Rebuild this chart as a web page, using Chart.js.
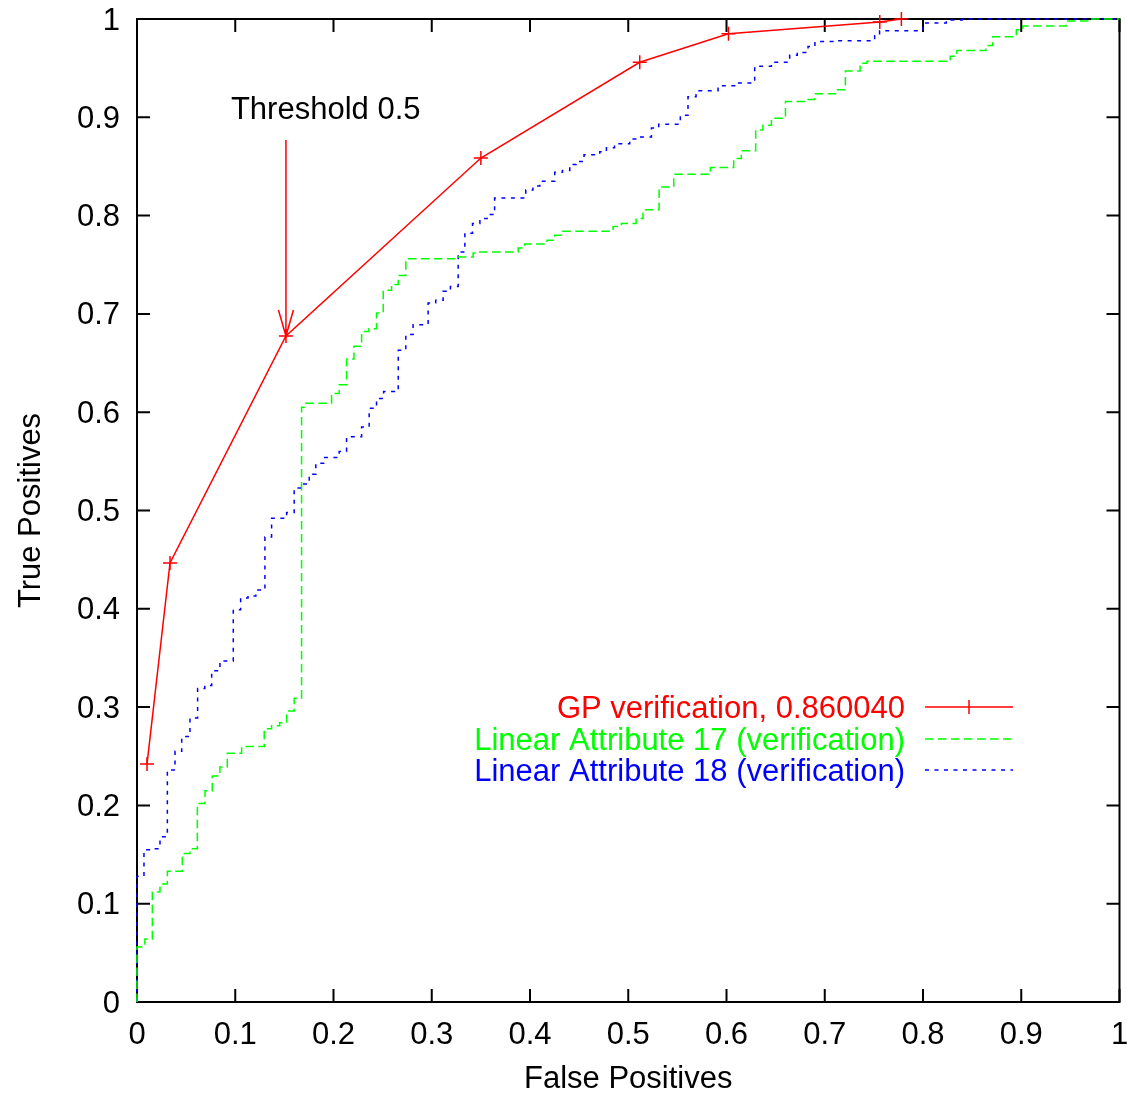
<!DOCTYPE html>
<html>
<head>
<meta charset="utf-8">
<title>ROC - GP verification</title>
<script src="https://cdn.jsdelivr.net/npm/chart.js@4.4.1/dist/chart.umd.min.js"></script>
<style>
  html, body { margin: 0; padding: 0; background: #fff; }
  canvas { display: block; }
</style>
</head>
<body>
<canvas id="roc" width="1128" height="1097"></canvas>
<script>
// GP verification ROC points (false positive rate, true positive rate)
const gpFP = [0.0102, 0.0336, 0.1516, 0.350, 0.5117, 0.602, 0.756, 0.778];
const gpTP = [0.242, 0.4466, 0.6775, 0.8586, 0.956, 0.985, 0.997, 1.0];

// Linear attribute curves, one entry per step: x where the curve rises, y it rises to
const attr17FP = [0, 0, 0.008, 0.0156, 0.0234, 0.0309, 0.0461, 0.0539, 0.0614, 0.0692, 0.0766, 0.0844,
  0.0919, 0.1065, 0.1295, 0.137, 0.1452, 0.1523, 0.160, 0.1675, 0.172, 0.198, 0.2058, 0.2133, 0.2208,
  0.2286, 0.236, 0.2438, 0.2506, 0.2591, 0.2659, 0.2736, 0.3269, 0.3421, 0.3456, 0.388, 0.3947, 0.4174,
  0.4252, 0.433, 0.4846, 0.493, 0.508, 0.515, 0.5314, 0.5463, 0.5836, 0.6073, 0.6151, 0.6297, 0.637,
  0.6457, 0.66, 0.683, 0.6897, 0.713, 0.721, 0.736, 0.743, 0.8277, 0.8345, 0.864, 0.871, 0.895, 0.9016,
  0.9457, 0.97, 1];
const attr17TP = [0, 0.056, 0.064, 0.112, 0.120, 0.133, 0.151, 0.156, 0.202, 0.215, 0.230, 0.239,
  0.253, 0.260, 0.278, 0.281, 0.284, 0.296, 0.309, 0.605, 0.609, 0.619, 0.628, 0.654, 0.667,
  0.682, 0.685, 0.701, 0.724, 0.730, 0.739, 0.756, 0.758, 0.762, 0.763, 0.767, 0.771, 0.775,
  0.780, 0.784, 0.789, 0.792, 0.797, 0.806, 0.829, 0.842, 0.849, 0.858, 0.866, 0.887, 0.892,
  0.899, 0.916, 0.918, 0.924, 0.928, 0.947, 0.955, 0.957, 0.962, 0.968, 0.973, 0.982, 0.989, 0.993,
  0.998, 1, 1];

const attr18FP = [0, 0, 0.0071, 0.016, 0.0234, 0.0309, 0.0387, 0.0455, 0.0539, 0.0617, 0.069, 0.076,
  0.0844, 0.098, 0.1055, 0.113, 0.121, 0.1302, 0.137, 0.1523, 0.160, 0.1676, 0.1753, 0.182, 0.19,
  0.2058, 0.2133, 0.2286, 0.2363, 0.2438, 0.251, 0.2659, 0.2736, 0.281, 0.2963, 0.304, 0.3116, 0.319,
  0.3269, 0.3337, 0.3415, 0.349, 0.3564, 0.364, 0.3957, 0.403, 0.41, 0.4252, 0.433, 0.4405, 0.447,
  0.455, 0.471, 0.4778, 0.486, 0.5015, 0.509, 0.5236, 0.531, 0.553, 0.5608, 0.569, 0.5914, 0.61,
  0.6287, 0.6457, 0.6643, 0.672, 0.683, 0.69, 0.71, 0.7508, 0.7558, 0.80, 0.8237, 0.84, 1];
const attr18TP = [0, 0.128, 0.155, 0.156, 0.168, 0.236, 0.255, 0.270, 0.289, 0.319, 0.322, 0.337,
  0.347, 0.399, 0.411, 0.413, 0.419, 0.473, 0.492, 0.498, 0.523, 0.527, 0.537, 0.548, 0.554,
  0.560, 0.575, 0.585, 0.604, 0.614, 0.621, 0.663, 0.679, 0.689, 0.711, 0.714, 0.723, 0.728,
  0.763, 0.782, 0.792, 0.797, 0.801, 0.818, 0.826, 0.830, 0.835, 0.844, 0.846, 0.852, 0.855,
  0.862, 0.865, 0.869, 0.873, 0.878, 0.880, 0.889, 0.893, 0.902, 0.921, 0.927, 0.932, 0.935,
  0.952, 0.956, 0.963, 0.966, 0.972, 0.977, 0.978, 0.983, 0.988, 0.996, 0.999, 1, 1];

const tickValues = [0, 0.1, 0.2, 0.3, 0.4, 0.5, 0.6, 0.7, 0.8, 0.9, 1];
const tickLabels = ['0', '0.1', '0.2', '0.3', '0.4', '0.5', '0.6', '0.7', '0.8', '0.9', '1'];

const seriesNames = ['GP verification, 0.860040', 'Linear Attribute 17 (verification)', 'Linear Attribute 18 (verification)'];
const seriesColors = ['#ff0000', '#00ff00', '#0000ff'];

// threshold annotation: arrow points at the 3rd GP point
const thresholdText = 'Threshold 0.5';
const thresholdIndex = 2;
const thresholdTextAt = { x: 0.0956, y: 0.907 };
const thresholdArrowFrom = 0.877;

const FONT = '"Liberation Sans", Arial, Helvetica, sans-serif';
const FONT_SIZE = 31;
Chart.defaults.font.family = FONT;
Chart.defaults.font.size = FONT_SIZE;
Chart.defaults.color = '#000';

function toPoints(xs, ys) {
    return xs.map((v, i) => ({ x: v, y: ys[i] }));
}

const frame = {
    id: 'frame',
    beforeDatasetsDraw(chart) {
        const { ctx, chartArea: a, scales: { x, y } } = chart;
        ctx.save();
        ctx.strokeStyle = '#000';
        ctx.lineWidth = 2;
        ctx.strokeRect(a.left, a.top, a.right - a.left, a.bottom - a.top);
        ctx.beginPath();
        tickValues.forEach(v => {
            const px = x.getPixelForValue(v);
            ctx.moveTo(px, a.bottom); ctx.lineTo(px, a.bottom - 13);
            ctx.moveTo(px, a.top); ctx.lineTo(px, a.top + 13);
            const py = y.getPixelForValue(v);
            ctx.moveTo(a.left, py); ctx.lineTo(a.left + 13, py);
            ctx.moveTo(a.right, py); ctx.lineTo(a.right - 13, py);
        });
        ctx.stroke();
        ctx.restore();
    },
    afterDatasetsDraw(chart) {
        const { ctx, scales: { x, y } } = chart;
        ctx.save();
        ctx.font = FONT_SIZE + 'px ' + FONT;
        ctx.textBaseline = 'middle';

        // threshold label + arrow
        ctx.fillStyle = '#000';
        ctx.textAlign = 'left';
        ctx.fillText(thresholdText, x.getPixelForValue(thresholdTextAt.x), y.getPixelForValue(thresholdTextAt.y));
        const tx = x.getPixelForValue(gpFP[thresholdIndex]);
        const ty = y.getPixelForValue(gpTP[thresholdIndex]);
        ctx.strokeStyle = seriesColors[0];
        ctx.lineWidth = 1.5;
        ctx.beginPath();
        ctx.moveTo(tx, y.getPixelForValue(thresholdArrowFrom));
        ctx.lineTo(tx, ty);
        ctx.moveTo(tx - 7.5, ty - 26);
        ctx.lineTo(tx, ty);
        ctx.lineTo(tx + 7.5, ty - 26);
        ctx.stroke();

        // gnuplot style key, text right aligned with sample line after it
        const textRight = 905, lineLeft = 925, lineRight = 1013;
        const rows = [707, 739, 770];
        chart.data.datasets.forEach((ds, i) => {
            const ry = rows[i];
            ctx.fillStyle = ds.borderColor;
            ctx.textAlign = 'right';
            ctx.fillText(ds.label, textRight, ry + 2);
            ctx.strokeStyle = ds.borderColor;
            ctx.lineWidth = 1.5;
            ctx.setLineDash(ds.borderDash || []);
            ctx.beginPath();
            ctx.moveTo(lineLeft, ry);
            ctx.lineTo(lineRight, ry);
            ctx.stroke();
            ctx.setLineDash([]);
            if (ds.pointRadius) {
                const cx = (lineLeft + lineRight) / 2;
                ctx.beginPath();
                ctx.moveTo(cx, ry - 7); ctx.lineTo(cx, ry + 7);
                ctx.stroke();
            }
        });
        ctx.restore();
    }
};

const axisBase = {
    type: 'linear',
    min: 0,
    max: 1,
    afterBuildTicks: scale => { scale.ticks = tickValues.map(v => ({ value: v })); },
    grid: { display: false, drawTicks: false },
    border: { display: false }
};

new Chart(document.getElementById('roc'), {
    type: 'line',
    data: {
        datasets: [{
            label: seriesNames[0],
            data: toPoints(gpFP, gpTP),
            borderColor: seriesColors[0],
            borderWidth: 1.5,
            pointStyle: 'cross',
            pointRadius: 7,
            pointBorderWidth: 1.5,
            pointBorderColor: seriesColors[0],
            tension: 0,
            fill: false,
            clip: false
        }, {
            label: seriesNames[1],
            data: toPoints(attr17FP, attr17TP),
            borderColor: seriesColors[1],
            borderWidth: 1.5,
            borderDash: [8.5, 4.5],
            pointRadius: 0,
            stepped: 'before',
            fill: false,
            clip: false
        }, {
            label: seriesNames[2],
            data: toPoints(attr18FP, attr18TP),
            borderColor: seriesColors[2],
            borderWidth: 1.5,
            borderDash: [4, 5.5],
            pointRadius: 0,
            stepped: 'before',
            fill: false,
            clip: false
        }]
    },
    options: {
        responsive: false,
        animation: false,
        devicePixelRatio: 1,
        layout: { padding: { top: 19, right: 8, left: 0, bottom: 0 } },
        plugins: { legend: { display: false }, tooltip: { enabled: false } },
        scales: {
            x: {
                ...axisBase,
                position: 'bottom',
                ticks: { callback: (v, i) => tickLabels[i], padding: 15, maxRotation: 0, autoSkip: false },
                title: { display: true, text: 'False Positives', font: { lineHeight: 1.1 }, padding: { top: 0, bottom: 0 } },
                afterFit: scale => {
                    scale.height = 95;
                    scale.paddingLeft = 0;
                    scale.paddingRight = 0;
                }
            },
            y: {
                ...axisBase,
                position: 'left',
                ticks: { callback: (v, i) => tickLabels[i], padding: 17, labelOffset: 2, autoSkip: false },
                title: { display: true, text: 'True Positives', padding: { top: 13, bottom: 0 } },
                afterFit: scale => {
                    scale.width = 137;
                    scale.paddingTop = 0;
                    scale.paddingBottom = 0;
                }
            }
        }
    },
    plugins: [frame]
});
</script>
</body>
</html>
